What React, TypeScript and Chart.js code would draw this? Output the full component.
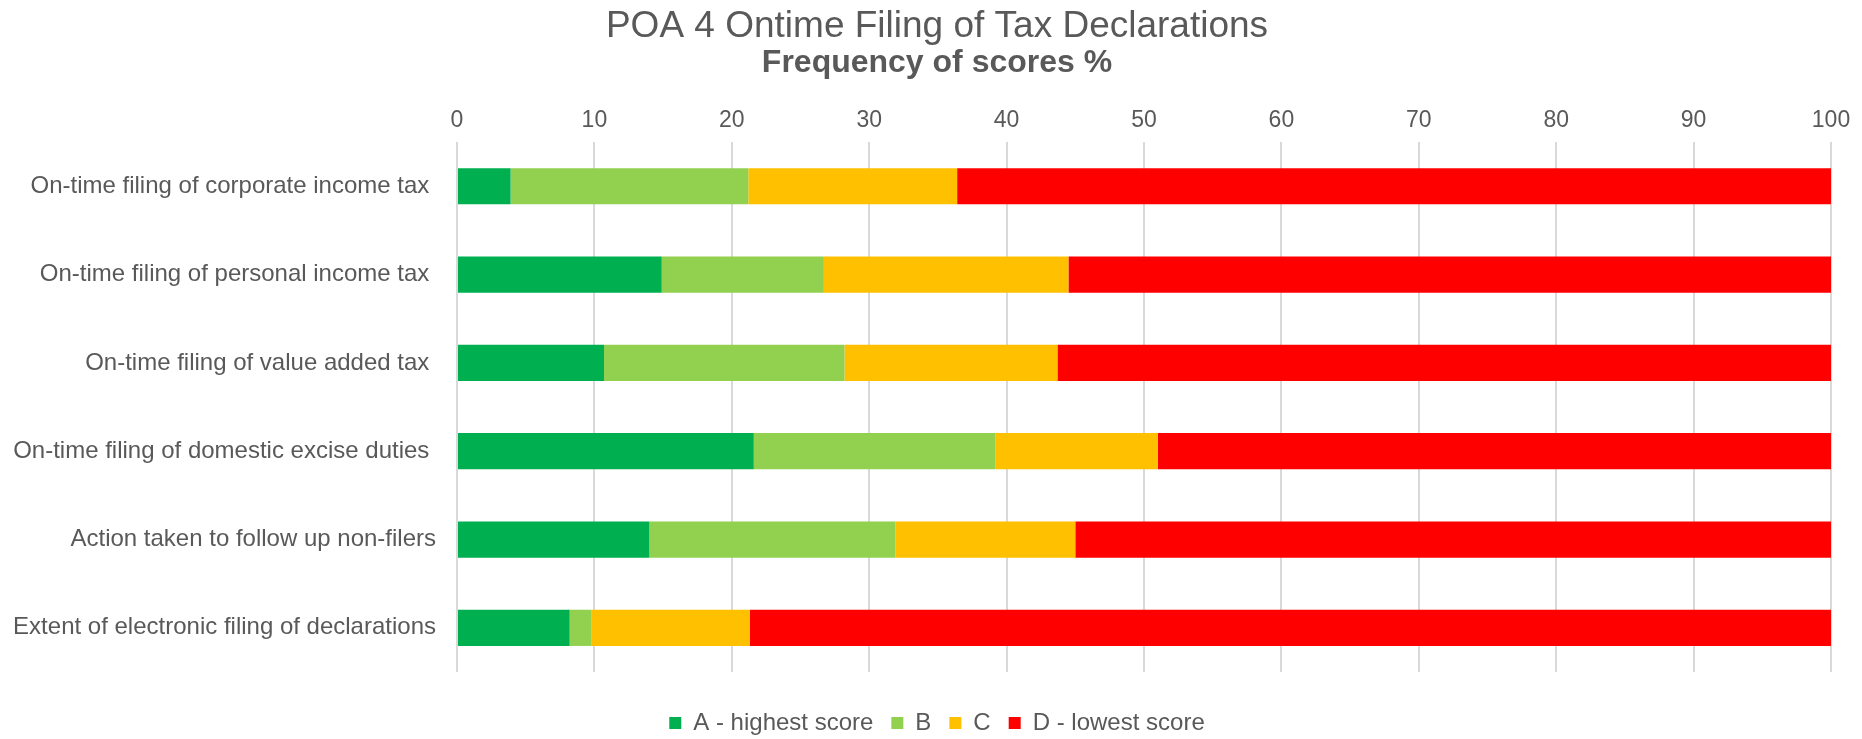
import React, { useEffect, useRef } from "react";
import { Chart, registerables } from "chart.js";

Chart.register(...registerables);

const categories = [
  "On-time filing of corporate income tax ",
  "On-time filing of personal income tax ",
  "On-time filing of value added tax ",
  "On-time filing of domestic excise duties ",
  "Action taken to follow up non-filers",
  "Extent of electronic filing of declarations",
];

const seriesNames = ["A - highest score", "B", "C", "D - lowest score"];
const seriesColors = ["#00B050", "#92D050", "#FFC000", "#FF0000"];

const scoreA = [3.9, 14.9, 10.7, 21.6, 14.0, 8.2];
const scoreB = [17.3, 11.8, 17.5, 17.6, 17.9, 1.6];
const scoreC = [15.2, 17.8, 15.5, 11.8, 13.1, 11.5];
const scoreD = [63.6, 55.5, 56.3, 49.0, 55.0, 78.7];

const titleText = "POA 4 Ontime Filing of Tax Declarations";
const subtitleText = "Frequency of scores %";

const TEXT = "#595959";
const FONT = "'Liberation Sans', Arial, sans-serif";

export default function App() {
  const ref = useRef<HTMLCanvasElement | null>(null);

  useEffect(() => {
    if (!ref.current) return;
    Chart.defaults.font.family = FONT;
    Chart.defaults.color = TEXT;
    const values = [scoreA, scoreB, scoreC, scoreD];
    const chart = new Chart(ref.current, {
      type: "bar",
      data: {
        labels: categories,
        datasets: values.map((v, i) => ({
          label: seriesNames[i],
          data: v,
          backgroundColor: seriesColors[i],
          borderWidth: 0,
          categoryPercentage: 1,
          barPercentage: 0.41,
        })),
      },
      options: {
        indexAxis: "y",
        responsive: false,
        animation: false,
        layout: { padding: { left: 12, right: 0, top: 0, bottom: 0 } },
        plugins: {
          title: {
            display: true,
            text: titleText,
            color: TEXT,
            font: { size: 37, weight: "normal", lineHeight: 0.8 },
            padding: { top: 11.5, bottom: 0 },
          },
          subtitle: {
            display: true,
            text: subtitleText,
            color: TEXT,
            font: { size: 32, weight: "bold", lineHeight: 1 },
            padding: { top: 6.5, bottom: 0 },
          },
          legend: {
            display: true,
            position: "bottom",
            maxHeight: 67,
            title: { display: true, text: "", padding: 0, font: { size: 21, lineHeight: 1 } },
            labels: {
              boxWidth: 12,
              boxHeight: 12,
              padding: 18,
              color: TEXT,
              font: { size: 24 },
            },
          },
          tooltip: { enabled: false },
        },
        scales: {
          x: {
            position: "top",
            stacked: true,
            min: 0,
            max: 100,
            ticks: { stepSize: 10, padding: 8, color: TEXT, font: { size: 23 } },
            grid: { color: "#D9D9D9", lineWidth: 2, drawTicks: false },
            border: { display: false },
            afterFit: (s: any) => {
              s.height = 142 - 79.5;
            },
          },
          y: {
            stacked: true,
            ticks: { padding: 21, color: TEXT, font: { size: 24 } },
            grid: { display: false, drawTicks: false },
            border: { display: false },
            afterFit: (s: any) => {
              s.width = 457 - 12;
            },
          },
          yRight: {
            type: "linear",
            position: "right",
            display: true,
            ticks: { display: false },
            grid: { display: false, drawTicks: false },
            border: { display: false },
            afterFit: (s: any) => {
              s.width = 31;
            },
          },
        },
      },
    });
    return () => chart.destroy();
  }, []);

  return (
    <div style={{ position: "absolute", left: 0, top: 0, width: 1862, height: 739, background: "#fff" }}>
      <canvas ref={ref} width={1862} height={739} style={{ display: "block" }} />
    </div>
  );
}
